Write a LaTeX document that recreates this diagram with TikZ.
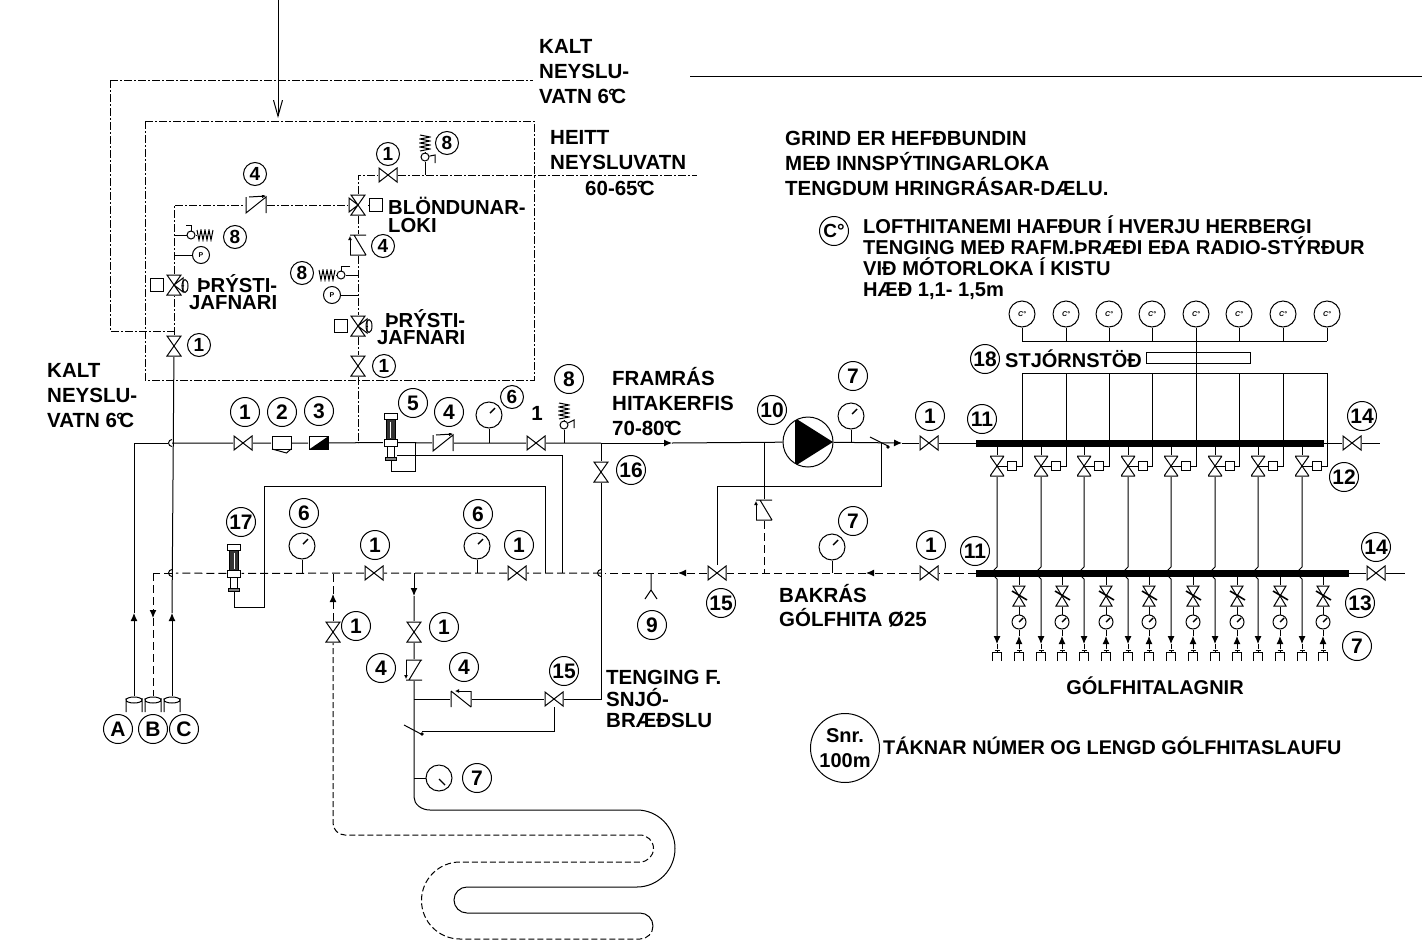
\documentclass[tikz,border=0pt]{standalone}
\usepackage{fontspec}
\setmainfont{Liberation Sans}
\usetikzlibrary{arrows.meta,shapes.geometric}
\newcommand{\degc}{\kern-1pt°\kern-5pt C}
\newcommand{\zigzag}{(-8,-5) -- (-6,5) -- (-4,-5) -- (-2,5) -- (0,-5) -- (2,5) -- (4,-5) -- (6,5) -- (8,-5)}
\newcommand{\zigzagv}{(-5,-8) -- (5,-6) -- (-5,-4) -- (5,-2) -- (-5,0) -- (5,2) -- (-5,4) -- (5,6) -- (-5,8)}

\begin{document}
\begin{tikzpicture}[x=1pt,y=-1pt,
pipe/.style={line width=1pt},
ret/.style={pipe,dash pattern=on 8pt off 4pt},
hot/.style={line width=.9pt,dash pattern=on 8pt off 2pt on 2pt off 2pt},
flow/.style={pipe,-{Latex[length=8pt,width=7pt]}},
retflow/.style={ret,-{Latex[length=8pt,width=7pt]}},
sym/.style={draw=none,inner sep=0,outer sep=0,fill=white},
valveh/.style={sym,minimum width=20,minimum height=16,path picture={
    \draw[pipe] (-9,-7) -- (9,7) -- (9,-7) -- (-9,7) -- cycle;}},
valvev/.style={sym,minimum width=16,minimum height=22,path picture={
    \draw[pipe] (-7,-10) -- (7,10) -- (-7,10) -- (7,-10) -- cycle;}},
valvel/.style={sym,minimum width=20,minimum height=22,path picture={
    \draw[pipe] (-7,-10) -- (7,10) -- (-7,10) -- (7,-10) -- cycle (0,0) -- (-9,-7) -- (-9,7) -- cycle;}},
valver/.style={sym,minimum width=20,minimum height=22,path picture={
    \draw[pipe] (-7,-10) -- (7,10) -- (-7,10) -- (7,-10) -- cycle (0,0) -- (9,-7) -- (9,7) -- cycle;}},
valvetrim/.style={sym,minimum width=18,minimum height=22,path picture={
    \draw[pipe] (-6,-10) -- (6,10) -- (-6,10) -- (6,-10) -- cycle;
    \draw[line width=1.6pt] (-7,-5) -- (8,4);}},
checkr/.style={sym,minimum width=22,minimum height=20,path picture={
    \draw[pipe] (-10,-8) -- (-10,8) -- (10,-8) -- (10,8);
    \draw[pipe,-{Latex[length=4pt,width=4pt]}] (-7,-8) -- (10,-9);}},
checkl/.style={sym,minimum width=22,minimum height=20,path picture={
    \draw[pipe] (-10,-8) -- (-10,8) (-10,-8) -- (10,8) (10,-8) -- (10,8);
    \draw[pipe,-{Latex[length=4pt,width=4pt]}] (10,-8) -- (-6,-8);}},
checku/.style={sym,minimum width=20,minimum height=22,path picture={
    \draw[pipe] (-8,-10) -- (8,-10) (-8,10) -- (8,10) (-4,-10) -- (8,10);
    \draw[pipe,-{Latex[length=4pt,width=4pt]}] (-8,10) -- (-8,-9);}},
checkd/.style={sym,minimum width=20,minimum height=22,path picture={
    \draw[pipe] (-8,-10) -- (8,-10) (-8,10) -- (8,10) (7,-10) -- (-5,10);
    \draw[pipe,-{Latex[length=4pt,width=4pt]}] (-8,-10) -- (-8,9);}},
gauge/.style={draw,circle,pipe,inner sep=0,minimum size=26,path picture={
    \draw[line width=1.4pt] (1,-2) -- (6,-7);}},
gaugedn/.style={draw,circle,pipe,inner sep=0,minimum size=26,path picture={
    \draw[line width=1.4pt] (0,1) -- (6,7);}},
gaugesm/.style={draw,circle,pipe,inner sep=0,minimum size=14,path picture={
    \draw[line width=1.4pt] (0,0) -- (4,-4);}},
rota/.style={draw=none,inner sep=0,minimum width=15,minimum height=60,path picture={
    \draw[pipe,fill=white] (-6.5,-29) rectangle (6.5,-23);
    \draw[pipe,fill=black!80] (-4.5,-23) rectangle (4.5,-3);
    \draw[white,line width=.7pt] (0,-21) -- (0,-5);
    \draw[pipe,fill=white] (-6.5,-3) rectangle (6.5,4);
    \draw[pipe,fill=white] (-3.5,4) rectangle (3.5,15);
    \draw[pipe,fill=black!50] (-5.5,15) rectangle (5.5,18);}},
strainer/.style={sym,minimum width=21,minimum height=22,path picture={
    \draw[pipe] (-9.5,-7) rectangle (9.5,6);
    \draw[pipe] (-9.5,6) -- (5,10) -- (9.5,6);}},
dirt/.style={sym,minimum width=21,minimum height=16,path picture={
    \fill[black] (9.5,-6.5) -- (9.5,6.5) -- (-9.5,6.5) -- cycle;
    \draw[pipe] (-9.5,-6.5) rectangle (9.5,6.5);}},
pump/.style={draw,circle,pipe,fill=white,inner sep=0,minimum size=50,path picture={
    \fill[black] (-13,-24) -- (25,0) -- (-13,24) -- cycle;}},
hop/.style={sym,circle,minimum size=8,path picture={
    \draw[pipe] (0,-3.5) arc[start angle=-90,end angle=-270,radius=3.5];}},
actbox/.style={draw,pipe,fill=white,inner sep=0,minimum size=13},
lens/.style={draw,pipe,ellipse,inner sep=0,minimum width=6,minimum height=13},
ball/.style={draw,pipe,circle,fill=white,inner sep=0,minimum size=8},
pball/.style={draw,pipe,circle,inner sep=0,minimum size=17,font=\bfseries\fontsize{7}{7}\selectfont},
springh/.style={sym,minimum width=18,minimum height=12,path picture={\draw[pipe] \zigzag;}},
springv/.style={sym,minimum width=12,minimum height=18,path picture={\draw[pipe] \zigzagv;}},
num/.style={draw,circle,pipe,inner sep=0,minimum size=29,font=\bfseries\fontsize{21}{21}\selectfont},
numsm/.style={num,minimum size=23,font=\bfseries\fontsize{19}{19}\selectfont},
sensor/.style={draw,circle,pipe,inner sep=0,minimum size=26,font=\bfseries\itshape\fontsize{7}{7}\selectfont},
tap/.style={sym,minimum width=18,minimum height=16,path picture={
    \draw[pipe] (-8,8) -- (-8,-4) arc[start angle=180,end angle=0,x radius=8,y radius=3] -- (8,8);
    \draw[pipe] (-8,-4) arc[start angle=180,end angle=360,x radius=8,y radius=3];}},
taps/.style={sym,minimum width=11,minimum height=12,path picture={
    \draw[pipe] (-4.5,6) -- (-4.5,-3) -- (4.5,-3) -- (4.5,6) (-2.5,-5) -- (2.5,-5) (0,-5) -- (0,-3);}},
txt/.style={inner sep=0,anchor=north west,align=left,font=\bfseries\fontsize{20.5}{25}\selectfont},
tight/.style={txt,font=\bfseries\fontsize{20.3}{17.5}\selectfont}]
\useasboundingbox (0,0) rectangle (1422,940);

% texts
\node (tkalt1) [txt] at (539,39) {KALT\\NEYSLU-\\VATN 6\degc};
\node (theitt) [txt] at (550,130) {HEITT\\NEYSLUVATN};
\node (theitt2) [txt] at (585,181) {60-65\degc};
\node (tgrind) [txt] at (785,131) {GRIND ER HEFÐBUNDIN\\MEÐ INNSPÝTINGARLOKA\\TENGDUM HRINGRÁSAR-DÆLU.};
\node (tloft) [txt,font=\bfseries\fontsize{20.1}{21}\selectfont] at (863,215) {LOFTHITANEMI HAFÐUR Í HVERJU HERBERGI\\TENGING MEÐ RAFM.ÞRÆÐI EÐA RADIO-STÝRÐUR\\VIÐ MÓTORLOKA Í KISTU\\HÆÐ 1,1- 1,5m};
\node (tkalt2) [txt] at (47,363) {KALT\\NEYSLU-\\VATN 6\degc};
\node (tfram) [txt] at (612,367) {FRAMRÁS\\HITAKERFIS\\70-80\degc};
\node (tbak) [txt,font=\bfseries\fontsize{20.5}{24}\selectfont] at (779,584) {BAKRÁS\\GÓLFHITA Ø25};
\node (tsnjo) [txt,font=\bfseries\fontsize{20.5}{21.5}\selectfont] at (606,670) {TENGING F.\\SNJÓ-\\BRÆÐSLU};
\node (tblond) [tight] at (388,197) {BLÖNDUNAR-\\LOKI};
\node (tpr1) [tight,align=right] at (189,274) {ÞRÝSTI-\\JAFNARI};
\node (tpr2) [tight,align=right] at (377,309) {ÞRÝSTI-\\JAFNARI};
\node (tstj) [txt,anchor=west,font=\bfseries\fontsize{20}{25}\selectfont] at (1005,359) {STJÓRNSTÖÐ};
\node (tgolf) [txt,anchor=center,font=\bfseries\fontsize{20}{25}\selectfont] at (1155,686) {GÓLFHITALAGNIR};
\node (ttakn) [txt,anchor=west,font=\bfseries\fontsize{19.8}{25}\selectfont] at (883,746) {TÁKNAR NÚMER OG LENGD GÓLFHITASLAUFU};
\node (tsnr) [draw,circle,pipe,inner sep=0,minimum size=69,align=center,font=\bfseries\fontsize{20}{25}\selectfont] at (845,748) {Snr.\\100m};
\node (tcel) [num,font=\bfseries\fontsize{19}{19}\selectfont] at (834,231) {C°};
\node (n1one) [txt,anchor=center] at (537,413) {1};

% shut-off and check valves
\node (vboxl) [valvev] at (174,346) {};
\node (vboxr) [valvev] at (358,366) {};
\node (vhot) [valveh] at (388,175) {};
\node (vmain) [valveh] at (243,443) {};
\node (vmain2) [valveh] at (536,443) {};
\node (vsnow) [valvev] at (601,472) {};
\node (vsup) [valveh] at (929,443) {};
\node (vret) [valveh] at (929,573) {};
\node (vout1) [valveh] at (1352,443) {};
\node (vout2) [valveh] at (1376,573) {};
\node (vby) [valveh] at (717,573) {};
\node (vlow1) [valveh] at (517,573) {};
\node (vlow2) [valveh] at (374,573) {};
\node (vsn1) [valvev] at (333,632) {};
\node (vsn2) [valvev] at (414,632) {};
\node (vsn3) [valveh] at (554,699) {};
\node (cktop) [checkr] at (256,205) {};
\node (ckbox) [checku] at (358,245) {};
\node (ckmain) [checkr] at (443,443) {};
\node (ckby) [checku] at (764,510) {};
\node (cksn1) [checkd] at (414,670) {};
\node (cksn2) [checkl] at (461,699) {};
\node (mix) [valvel] at (358,205) {};
\node (mixbox) [actbox] at (376,205) {};
\node (eql) [valver] at (174,285) {};
\node (eqlbox) [actbox] at (157,285) {};
\node (eqllens) [lens] at (185,286) {};
\node (eqr) [valver] at (358,326) {};
\node (eqrbox) [actbox] at (341,326) {};
\node (eqrlens) [lens] at (369,326) {};

% main line parts
\node (strain) [strainer] at (281.5,443) {};
\node (dirtsep) [dirt] at (318.5,443) {};
\node (rot5) [rota] at (390.5,442.5) {};
\node (rot17) [rota] at (234,573.5) {};
\node (mpump) [pump] at (808,442) {};
\node (g6a) [gauge] at (489,415) {};
\node (g7a) [gauge] at (851,416) {};
\node (g7b) [gauge] at (832,547) {};
\node (g6b) [gauge] at (477,546) {};
\node (g6c) [gauge] at (302,546) {};
\node (g7c) [gaugedn] at (439,778) {};
\node (h1) [hop] at (172,443) {};
\node (h2) [hop] at (172,573) {};
\node (h3) [hop] at (601,573) {};
\node (bar1) [fill=black,inner sep=0,minimum width=348,minimum height=7] at (1150,443) {};
\node (bar2) [fill=black,inner sep=0,minimum width=373,minimum height=7] at (1162.5,573) {};
\node (ctrl) [draw,pipe,fill=white,inner sep=0,minimum width=104,minimum height=11] at (1198,358) {};

% relief valves and springs
\node (bhot) [ball] at (425,157) {};
\node (shot) [springv] at (425,143) {};
\node (bbl) [ball] at (191,235) {};
\node (sbl) [springh] at (205,235) {};
\node (bbr) [ball] at (341,275) {};
\node (sbr) [springh] at (327,275) {};
\node (bmain) [ball] at (564,425) {};
\node (smain) [springv] at (564,411) {};
\node (pl) [pball] at (201,255) {P};
\node (pr) [pball] at (332,295) {P};

% taps
\node (cA) [tap] at (134,704) {};
\node (cB) [tap] at (153,704) {};
\node (cC) [tap] at (172,704) {};
\node (lA) [num] at (118,729) {A};
\node (lB) [num] at (153,729) {B};
\node (lC) [num] at (184,729) {C};

% numbered circles
\foreach \nme/\val/\pos in {a/1/{388,154},b/8/{447,143},c/4/{255,174},d/8/{235,237},e/1/{199,345},
    f/4/{383,246},g/8/{302,273},h/1/{384,366},i/6/{512,397}}
  \node (c\nme) [numsm] at (\pos) {\val};
\foreach \nme/\val/\pos in {a/1/{245,412},b/2/{282,412},c/3/{319,411},d/5/{413,403},e/4/{449,412},
    f/8/{569,379},g/16/{631,470},h/10/{772,410},i/7/{853,376},j/1/{930,416},k/11/{982,419},l/14/{1362,416},
    m/12/{1344,477},n/18/{985,359},o/17/{241,522},p/6/{304,513},q/1/{375,545},r/6/{478,514},s/1/{519,545},
    t/7/{853,521},u/1/{931,545},v/11/{975,551},w/14/{1376,547},x/13/{1360,603},y/7/{1357,646},
    z/15/{721,603},aa/9/{652,625},ab/1/{356,626},ac/1/{444,627},ad/4/{381,668},ae/4/{464,667},af/15/{564,671},ag/7/{477,778}}
  \node (n\nme) [num] at (\pos) {\val};

% cold and hot water inside the box
\draw[hot] (145,121) rectangle (534,380);
\draw[hot] (110,80) -- (533,80);
\draw[hot] (110,80) -- (110,331) -- (174,331);
\draw[hot] (vboxl) -- (eql) -- (174,205) -- (cktop) -- (mix) -- (mixbox);
\draw[hot] (mix) -- (358,175) -- (vhot) -- (697,175);
\draw[hot] (mix) -- (ckbox) -- (eqr) -- (vboxr) -- (358,443);
\draw[pipe] (174,235) -- (bbl);
\draw[pipe] (bbl) -- (sbl);
\draw[pipe] (186,225) -- (191,225) -- (bbl);
\draw[pipe] (174,255) -- (pl);
\draw[pipe] (eql) -- (eqlbox);
\draw[pipe] (eql) -- (eqllens);
\draw[pipe] (358,275) -- (bbr);
\draw[pipe] (bbr) -- (sbr);
\draw[pipe] (350,266) -- (341,266) -- (bbr);
\draw[pipe] (358,295) -- (pr);
\draw[pipe] (eqr) -- (eqrbox);
\draw[pipe] (eqr) -- (eqrlens);
\draw[pipe] (425,175) -- (bhot);
\draw[pipe] (bhot) -- (shot);
\draw[pipe] (bhot) -- (435,155) -- (435,163);
\draw[pipe,-{Straight Barb[length=16pt,width=9pt]}] (278,0) -- (278,118);
\draw[pipe] (690,76) -- (1422,76);

% supply line
\draw[flow] (cA) -- (134,613);
\draw[pipe] (134,613) -- (134,443) -- (h1);
\draw[flow] (cC) -- (172,613);
\draw[pipe] (172,613) -- (vboxl);
\draw[retflow] (153,573) -- (153,618);
\draw[ret] (153,618) -- (cB);
\draw[pipe] (h1.center) -- (vmain) -- (strain) -- (dirtsep) -- (rot5) -- (ckmain) -- (vmain2) -- (601,443);
\draw[flow] (601,443) -- (672,443);
\draw[pipe] (672,443) -- (mpump);
\draw[flow] (mpump) -- (902,443);
\draw[pipe] (902,443) -- (vsup) -- (bar1);
\draw[pipe] (bar1) -- (vout1) -- (1380,443);
\draw[pipe] (g6a) -- (g6a|-vmain);
\draw[pipe] (g7a) -- (g7a|-mpump);
\draw[pipe] (870,437) -- (888,446);
\fill (888,447) circle (1.8);
\draw[pipe] (bmain) -- (564,443);
\draw[pipe] (bmain) -- (smain);
\draw[pipe] (bmain) -- (574,420) -- (574,428);
\draw[pipe] (601,443) -- (vsnow) -- (601,699) -- (vsn3);
\draw[pipe] (415,443) -- (415,471) -- (391,471) -- (391,460);
\draw[pipe] (397,455) -- (562,455) -- (562,573);
\draw[pipe] (234,592) -- (234,607) -- (264,607) -- (264,486) -- (545,486) -- (545,573);
\draw[pipe] (881,443) -- (881,486) -- (717,486) -- (vby);
\draw[pipe] (764,443) -- (ckby);

% return line
\draw[ret] (bar2) -- (vret);
\draw[retflow] (vret) -- (866,573);
\draw[ret] (866,573) -- (vby);
\draw[retflow] (vby) -- (678,573);
\draw[ret] (678,573) -- (h3);
\draw[ret] (h3.center) -- (vlow1) -- (vlow2) -- (rot17) -- (h2);
\draw[ret] (h2.center) -- (153,573);
\draw[ret] (ckby) -- (764,573);
\draw[pipe] (g7b) -- (g7b|-vret);
\draw[pipe] (g6b) -- (g6b|-vlow1);
\draw[pipe] (g6c) -- (g6c|-vlow1);
\draw[pipe] (bar2) -- (vout2) -- (1405,573);
\draw[pipe] (651,573) -- (651,590) -- (645,599) (651,590) -- (657,599);

% snow melting loop
\draw[flow] (414,573) -- (414,596);
\draw[pipe] (414,596) -- (vsn2) -- (cksn1) -- (414,797)
  arc[start angle=180,end angle=90,x radius=16,y radius=13] -- (637,810)
  arc[start angle=-90,end angle=90,x radius=38,y radius=38.5] -- (467,887)
  arc[start angle=-90,end angle=-270,radius=13] -- (640,913)
  arc[start angle=-90,end angle=0,radius=13];
\draw[pipe,dash pattern=on 6pt off 3pt] (653,926) arc[start angle=0,end angle=90,radius=13] -- (460,939)
  arc[start angle=90,end angle=270,radius=38.5] -- (640,862)
  arc[start angle=90,end angle=-90,radius=13.5] -- (345,835)
  arc[start angle=90,end angle=180,radius=12] -- (vsn1);
\draw[retflow] (vsn1) -- (333,594);
\draw[ret] (333,594) -- (333,573);
\draw[pipe] (414,699) -- (cksn2) -- (vsn3);
\draw[pipe] (vsn3) -- (554,731) -- (422,731);
\draw[pipe] (404,725) -- (421,734);
\fill (422,734) circle (1.8);
\draw[pipe] (g7c) -- (g7c-|cksn1);

% manifolds
\draw[pipe] (1022,341) -- (1327,341);
\draw[pipe] (1022,373) -- (1327,373);
\draw[pipe] (1196,341) -- (1196,373);
\foreach \i/\x/\s/\r in {1/997/1022/1019,2/1041/1066/1062,3/1084/1109/1106,4/1128/1152/1149,
    5/1171/1196/1193,6/1215/1239/1237,7/1258/1283/1280,8/1302/1327/1323} {
  \node (ms\i) [sensor] at (\s,314) {C°};
  \node (mv\i) [valvev,minimum width=14] at (\x,466) {};
  \node (mb\i) [actbox,minimum size=9.5] at (\x+15,466) {};
  \node (mt\i) [valvetrim] at (\r,596) {};
  \node (mg\i) [gaugesm] at (\r,622) {};
  \node (pa\i) [taps] at (\x,655) {};
  \node (pb\i) [taps] at (\r,655) {};
  \draw[pipe] (ms\i) -- (\s,341);
  \draw[pipe] (mv\i) -- (\x,443);
  \draw[pipe] (mv\i.center) -- (mb\i);
  \draw[pipe] (mb\i) -- (\s,466) -- (\s,373);
  \draw[pipe] (mv\i) -- (\x,567) -- (\x-5,572);
  \draw[flow] (\x-5,574) -- (\x,579) -- (\x,644);
  \draw[pipe] (pa\i) -- (\x,644);
  \draw[pipe] (mt\i|-bar2) -- (mt\i);
  \draw[pipe] (mt\i) -- (mg\i);
  \draw[flow] (pb\i) -- (\r,636);
  \draw[pipe] (\r,636) -- (mg\i);
}
\end{tikzpicture}
\end{document}
